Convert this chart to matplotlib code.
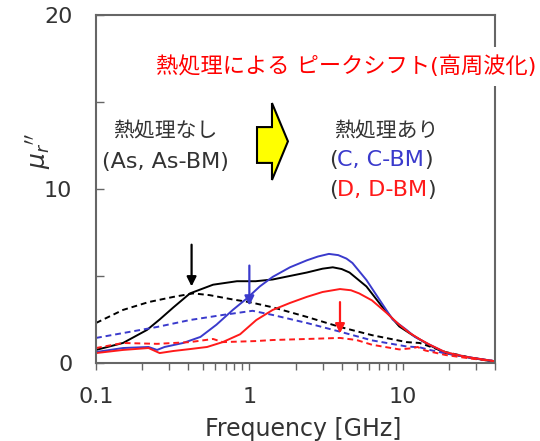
import matplotlib
matplotlib.use('Agg')
import matplotlib.pyplot as plt
from matplotlib.patches import Polygon

plt.rcParams['font.family'] = ['DejaVu Sans', 'Noto Sans CJK JP']
plt.rcParams['mathtext.fontset'] = 'dejavusans'

GRAY = '#333333'
BLUE = '#3a3acc'
RED = '#ff1a1a'

# black solid (As)
f_as = [0.1, 0.15, 0.215, 0.26, 0.32, 0.41, 0.58, 0.83, 1.1, 1.42, 2.37, 3.0, 3.5, 4.0,
        4.5, 5.8, 7.4, 9.5, 11.6, 14.9, 19, 26, 38, 40]
v_as = [0.75, 1.15, 1.9, 2.5, 3.2, 4.0, 4.5, 4.7, 4.7, 4.8, 5.2, 5.42, 5.5, 5.4,
        5.2, 4.4, 3.2, 2.1, 1.6, 1.03, 0.57, 0.34, 0.1, 0.08]
# black dashed (As-BM)
f_asbm = [0.1, 0.15, 0.22, 0.32, 0.43, 0.55, 0.78, 1.0, 1.42, 2.37, 3.9, 6.3, 10.6,
          12.9, 19, 28, 40]
v_asbm = [2.3, 3.05, 3.5, 3.8, 4.0, 3.9, 3.65, 3.5, 3.2, 2.65, 2.07, 1.6, 1.2,
          1.15, 0.63, 0.3, 0.1]
# blue solid (C)
f_c = [0.1, 0.15, 0.22, 0.25, 0.28, 0.37, 0.48, 0.61, 0.78, 0.96, 1.17, 1.42, 1.84,
       2.37, 2.8, 3.3, 3.8, 4.3, 4.7, 5.8, 7.1, 8.6, 10.6, 12, 15, 19, 26, 40]
v_c = [0.63, 0.86, 0.92, 0.75, 0.92, 1.15, 1.5, 2.2, 3.05, 3.7, 4.4, 4.95, 5.5,
       5.9, 6.12, 6.27, 6.2, 6.0, 5.75, 4.77, 3.6, 2.5, 1.9, 1.5, 1.05, 0.6, 0.35, 0.1]
# blue dashed (C-BM)
f_cbm = [0.1, 0.15, 0.25, 0.41, 0.67, 1.05, 1.42, 2.37, 3.9, 6.3, 10.6, 12.9, 15,
         19, 28, 40]
v_cbm = [1.44, 1.72, 2.07, 2.47, 2.76, 3.0, 2.76, 2.3, 1.8, 1.3, 0.95, 0.9, 0.75,
         0.55, 0.3, 0.1]
# red solid (D)
f_d = [0.1, 0.15, 0.22, 0.26, 0.32, 0.41, 0.53, 0.67, 0.87, 1.11, 1.42, 1.84, 2.37,
       3.0, 3.9, 4.6, 5.2, 6.3, 7.8, 9.5, 11, 13, 15, 19, 26, 40]
v_d = [0.57, 0.75, 0.86, 0.57, 0.69, 0.8, 0.92, 1.2, 1.65, 2.47, 3.05, 3.45, 3.8,
       4.08, 4.25, 4.18, 4.0, 3.6, 2.9, 2.2, 1.75, 1.35, 1.05, 0.62, 0.35, 0.1]
# red dashed (D-BM)
f_dbm = [0.1, 0.15, 0.25, 0.41, 0.58, 0.67, 1.1, 1.42, 2.37, 3.9, 5.0, 6.3, 9.5,
         11.6, 12.5, 14, 19, 28, 40]
v_dbm = [0.86, 1.15, 1.1, 1.2, 1.38, 1.2, 1.26, 1.32, 1.38, 1.44, 1.32, 1.05, 0.78,
         0.85, 0.92, 0.72, 0.46, 0.25, 0.1]

fig = plt.figure(figsize=(5.4, 4.41), dpi=100)
ax = fig.add_axes([0.1778, 0.1769, 0.7389, 0.789])

ax.plot(f_as, v_as, color='black', lw=1.4)
ax.plot(f_asbm, v_asbm, color='black', lw=1.4, ls=(0, (3, 2)))
ax.plot(f_c, v_c, color=BLUE, lw=1.4)
ax.plot(f_cbm, v_cbm, color=BLUE, lw=1.4, ls=(0, (3, 2)))
ax.plot(f_d, v_d, color=RED, lw=1.4)
ax.plot(f_dbm, v_dbm, color=RED, lw=1.4, ls=(0, (3, 2)))

# peak arrows
for fx, y0, y1, col in [(0.42, 6.8, 4.4, 'black'), (1.0, 5.6, 3.3, BLUE), (3.9, 3.5, 1.7, RED)]:
    ax.annotate('', xy=(fx, y1), xytext=(fx, y0),
                arrowprops=dict(arrowstyle='-|>', color=col, lw=1.6,
                                mutation_scale=14, shrinkA=0, shrinkB=0))

ax.set_xscale('log')
ax.set_xlim(0.1, 40)
ax.set_ylim(0, 20)
ax.set_xticks([0.1, 1, 10])
ax.set_xticklabels(['0.1', '1', '10'])
ax.set_yticks([0, 10, 20])
ax.set_yticks([5, 15], minor=True)
ax.tick_params(axis='x', which='both', direction='out', length=5, width=1,
               colors='#666666', labelcolor=GRAY, labelsize=16, pad=12)
ax.tick_params(axis='y', which='both', direction='in', length=6, width=1,
               colors='#666666', labelcolor=GRAY, labelsize=16, pad=17)
for sp in ax.spines.values():
    sp.set_color('#666666')
    sp.set_linewidth(1.5)

ax.set_xlabel('Frequency [GHz]', fontsize=17, color=GRAY)
ax.xaxis.set_label_coords(0.52, -0.155)
ax.set_ylabel(r"$\mu_r{''}$", fontsize=18, color=GRAY)
ax.yaxis.set_label_coords(-0.108, 0.61)

# yellow block arrow
arrow = Polygon([(0.4035, 0.575), (0.441, 0.575), (0.441, 0.526), (0.481, 0.637),
                 (0.441, 0.747), (0.441, 0.678), (0.4035, 0.678)],
                closed=True, transform=ax.transAxes, facecolor='#ffff00',
                edgecolor='black', lw=1.5, zorder=5)
ax.add_patch(arrow)

ax.text(0.173, 0.668, '熱処理なし', transform=ax.transAxes, ha='center', va='center',
        fontsize=15, color=GRAY)
ax.text(0.173, 0.578, '(As, As-BM)', transform=ax.transAxes, ha='center', va='center',
        fontsize=16, color=GRAY)
ax.text(0.728, 0.668, '熱処理あり', transform=ax.transAxes, ha='center', va='center',
        fontsize=15, color=GRAY)

# multi-coloured sample labels
for yy, inner, col in [(0.583, 'C, C-BM', BLUE), (0.497, 'D, D-BM', RED)]:
    left = ax.text(0.583, yy, '(', transform=ax.transAxes, ha='left', va='center',
                   fontsize=16, color=GRAY)
    mid = ax.annotate(inner, xy=(1, 0), xycoords=left, ha='left', va='bottom',
                      fontsize=16, color=col)
    ax.annotate(')', xy=(1, 0), xycoords=mid, ha='left', va='bottom',
                fontsize=16, color=GRAY)

ax.text(0.627, 0.853, '熱処理による ピークシフト(高周波化)', transform=ax.transAxes,
        ha='center', va='center', fontsize=16, color='red', zorder=10,
        bbox=dict(facecolor='white', edgecolor='none', pad=6))

fig.savefig('out.png', dpi=100)
